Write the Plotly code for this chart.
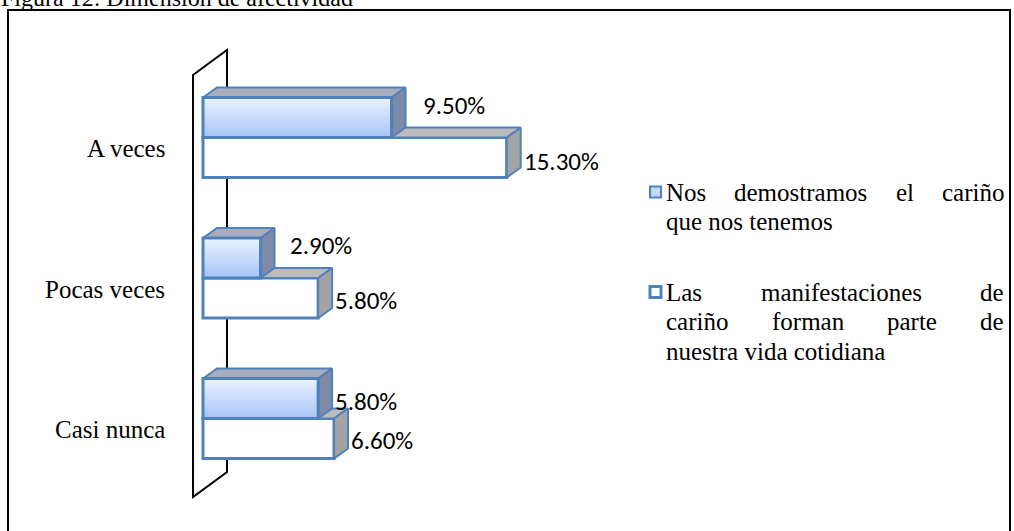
import plotly.graph_objects as go

# Datos
categorias = ["A veces", "Pocas veces", "Casi nunca"]
serie_1 = [9.5, 2.9, 5.8]
serie_2 = [15.3, 5.8, 6.6]
nombres = ["Nos demostramos el cariño que nos tenemos",
           "Las manifestaciones de cariño forman parte de nuestra vida cotidiana"]
titulo = "Figura 12: Dimensión de afectividad"

# Geometria del area de trazado (px)
ANCHO, ALTO = 1014, 531
IZQ, DER, ARR, ABA = 180, 620, 40, 510
XR = [-1.1587, 21.008]
YR = [2.651, -0.694]
BW = 0.285            # grosor de barra (unidades de categoria)
DX, DY = 0.705, 0.0712  # profundidad 3D

AZUL = "#4f81bd"
SERIF = "Liberation Serif, Times New Roman, serif"
SANS = "Carlito, Calibri, Lato, sans-serif"

# desplazamientos de etiquetas (px) como en el original
desp_1 = [(29, 12), (27, 13), (15, -3)]
desp_2 = [(15, -4), (15, -2), (15, -2)]


def px_x(p):
    return (p - IZQ) / (DER - IZQ)


def px_y(p):
    return (ABA - p) / (ABA - ARR)


# anchos Times (1/1000 em) para justificar la leyenda
ANCHOS_TNR = {" ": 250, "a": 444, "c": 444, "d": 500, "e": 444, "f": 333, "i": 278,
              "l": 278, "m": 778, "n": 500, "ñ": 500, "o": 500, "p": 500, "q": 500,
              "r": 333, "s": 389, "t": 278, "u": 500, "v": 500, "L": 611, "N": 722}


def ancho_txt(s, size):
    return sum(ANCHOS_TNR.get(ch, 500) for ch in s) * size / 1000.0


def envolver(texto, max_em=11.9):
    lineas, actual = [], []
    for w in texto.split():
        prueba = " ".join(actual + [w])
        if actual and ancho_txt(prueba, 1000) / 1000.0 > max_em:
            lineas.append(actual)
            actual = [w]
        else:
            actual.append(w)
    lineas.append(actual)
    return lineas


idx = list(range(len(categorias)))


def caras(valores, arriba):
    tx, ty, sx, sy = [], [], [], []
    for i, v in zip(idx, valores):
        yt = i - BW if arriba else i
        yb = i if arriba else i + BW
        tx += [0, v, v + DX, DX, 0, None]
        ty += [yt, yt, yt - DY, yt - DY, yt, None]
        sx += [v, v + DX, v + DX, v, v, None]
        sy += [yt, yt - DY, yb - DY, yb, yt, None]
    return tx, ty, sx, sy


fig = go.Figure()

# Serie 2 (abajo en cada grupo) - subplot xy
fig.add_trace(go.Bar(y=idx, x=serie_2, orientation="h", width=BW, offset=0,
                     marker=dict(color="white", line=dict(color=AZUL, width=3)),
                     name=nombres[1], showlegend=False, hoverinfo="skip"))
tx, ty, sx, sy = caras(serie_2, False)
fig.add_trace(go.Scatter(x=tx, y=ty, mode="lines", fill="toself", fillcolor="#bcbcbc",
                         line=dict(color=AZUL, width=2), showlegend=False, hoverinfo="skip"))
fig.add_trace(go.Scatter(x=sx, y=sy, mode="lines", fill="toself", fillcolor="#a3a3a3",
                         line=dict(color=AZUL, width=2), showlegend=False, hoverinfo="skip"))

# Serie 1 (arriba) - caras con degradado en subplot x2y2
for i, v in zip(idx, serie_1):
    yt, yb = i - BW, i
    fig.add_trace(go.Scatter(x=[0, v, v, 0, 0], y=[yt, yt, yb, yb, yt], mode="lines",
                             fill="toself", line=dict(width=0),
                             fillgradient=dict(type="vertical", start=yt, stop=yb,
                                               colorscale=[[0, "#ebf2ff"], [1, "#a6c4f7"]]),
                             xaxis="x2", yaxis="y2", showlegend=False, hoverinfo="skip"))
tx, ty, sx, sy = caras(serie_1, True)
fig.add_trace(go.Scatter(x=tx, y=ty, mode="lines", fill="toself", fillcolor="#a7adbf",
                         line=dict(color=AZUL, width=2), xaxis="x2", yaxis="y2",
                         showlegend=False, hoverinfo="skip"))
fig.add_trace(go.Scatter(x=sx, y=sy, mode="lines", fill="toself", fillcolor="#7d8aa8",
                         line=dict(color=AZUL, width=2), xaxis="x2", yaxis="y2",
                         showlegend=False, hoverinfo="skip"))

# Serie 1 contorno de barra - subplot x3y3
fig.add_trace(go.Bar(y=idx, x=serie_1, orientation="h", width=BW, offset=-BW,
                     marker=dict(color="rgba(0,0,0,0)", line=dict(color=AZUL, width=3)),
                     name=nombres[0], showlegend=False, hoverinfo="skip",
                     xaxis="x3", yaxis="y3"))

ejes_x = dict(range=XR, visible=False, showgrid=False, zeroline=False, fixedrange=True)
ejes_y = dict(range=YR, visible=False, showgrid=False, zeroline=False, fixedrange=True)

anotaciones = []
# etiquetas de categoria
for i, c in zip(idx, categorias):
    anotaciones.append(dict(x=px_x(167), xref="paper", y=i, yref="y", text=c,
                            xanchor="right", yanchor="middle", yshift=-11, showarrow=False,
                            font=dict(family=SERIF, size=25, color="black")))
# etiquetas de valores
FS_VAL = 25
for i, v, (dx, dy) in zip(idx, serie_1, desp_1):
    anotaciones.append(dict(x=v, y=i - BW / 2, xref="x", yref="y", text=f"{v:.2f}%",
                            xanchor="left", yanchor="middle", xshift=dx, yshift=dy,
                            showarrow=False, font=dict(family=SANS, size=FS_VAL, color="black")))
for i, v, (dx, dy) in zip(idx, serie_2, desp_2):
    anotaciones.append(dict(x=v, y=i + BW / 2, xref="x", yref="y", text=f"{v:.2f}%",
                            xanchor="left", yanchor="middle", xshift=dx, yshift=dy,
                            showarrow=False, font=dict(family=SANS, size=FS_VAL, color="black")))

# leyenda manual con texto justificado
FS_LEY = 25
TX0, TX1 = 665, 1003
inicio_items = [192, 292]
PASO = 29.7
formas = []
estilos_marca = [dict(fillcolor="#c6d9f8", line=dict(color=AZUL, width=2)),
                 dict(fillcolor="white", line=dict(color=AZUL, width=3))]
for k, nombre in enumerate(nombres):
    lineas = envolver(nombre)
    y0 = inicio_items[k]
    formas.append(dict(type="rect", xref="paper", yref="paper",
                       x0=px_x(650), x1=px_x(661), y0=px_y(y0 - 5.5), y1=px_y(y0 + 5.5),
                       **estilos_marca[k]))
    for j, palabras in enumerate(lineas):
        yl = px_y(y0 + j * PASO)
        ultima = j == len(lineas) - 1
        if ultima or len(palabras) == 1:
            anotaciones.append(dict(x=px_x(TX0), y=yl, xref="paper", yref="paper",
                                    text=" ".join(palabras), xanchor="left", yanchor="middle",
                                    showarrow=False, borderpad=0,
                                    font=dict(family=SERIF, size=FS_LEY, color="black")))
            continue
        anchos = [ancho_txt(p, FS_LEY) for p in palabras]
        hueco = (TX1 - TX0 - sum(anchos)) / (len(palabras) - 1)
        xp = TX0
        for p, a in zip(palabras, anchos):
            anotaciones.append(dict(x=px_x(xp), y=yl, xref="paper", yref="paper", text=p,
                                    xanchor="left", yanchor="middle", showarrow=False,
                                    borderpad=0,
                                    font=dict(family=SERIF, size=FS_LEY, color="black")))
            xp += a + hueco

# titulo (cortado arriba, como en la imagen)
anotaciones.append(dict(x=px_x(0), y=px_y(12), xref="paper", yref="paper", text=titulo,
                        xanchor="left", yanchor="bottom", showarrow=False, borderpad=0,
                        font=dict(family=SERIF, size=24, color="black")))

# pared del eje (3D)
formas.insert(0, dict(type="path", xref="x", yref="y", layer="below",
                      path="M -0.504,-0.445 L 1.209,-0.623 L 1.209,2.381 L -0.504,2.559 Z",
                      line=dict(color="black", width=2), fillcolor="white"))
# marco exterior
formas.append(dict(type="rect", xref="paper", yref="paper", x0=px_x(8), x1=px_x(1010),
                   y0=px_y(545), y1=px_y(10), line=dict(color="black", width=2),
                   fillcolor="rgba(0,0,0,0)"))

fig.update_layout(
    width=ANCHO, height=ALTO,
    margin=dict(l=IZQ, r=ANCHO - DER, t=ARR, b=ALTO - ABA),
    paper_bgcolor="white", plot_bgcolor="white",
    showlegend=False,
    xaxis=ejes_x, yaxis=ejes_y,
    xaxis2=dict(ejes_x, overlaying="x"), yaxis2=dict(ejes_y, overlaying="y"),
    xaxis3=dict(ejes_x, overlaying="x"), yaxis3=dict(ejes_y, overlaying="y"),
    annotations=anotaciones, shapes=formas,
)

fig.write_html("out.html", config=dict(displayModeBar=False),
               post_script="document.body.style.margin='0';document.body.style.overflow='hidden';")
